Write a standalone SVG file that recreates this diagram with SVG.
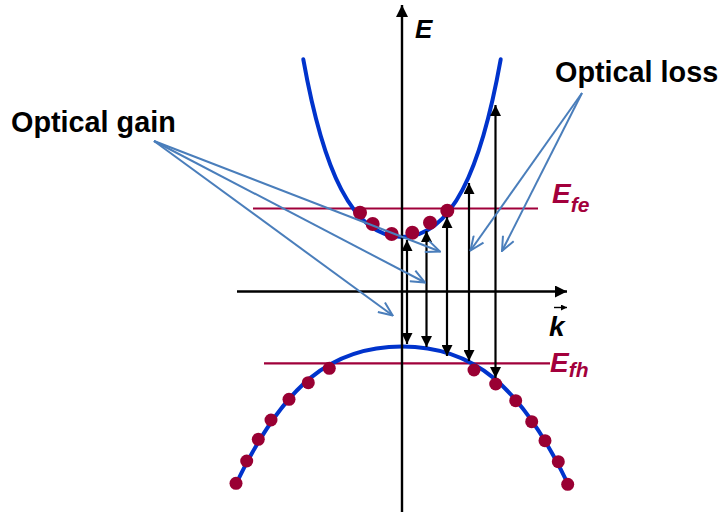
<svg xmlns="http://www.w3.org/2000/svg" width="721" height="512" viewBox="0 0 721 512">
<defs>
<style>
.band{fill:none;stroke:#0033CC;stroke-width:4;stroke-linecap:round}
.lvl{stroke:#A0003A;stroke-width:2.2}
.dot{fill:#990033}
.ax{stroke:#000;stroke-width:2.4;fill:none}
.tr{stroke:#000;stroke-width:2.2;fill:none;marker-start:url(#ah);marker-end:url(#ah)}
.co{stroke:#4A7EBB;stroke-width:2;fill:none;marker-end:url(#oa)}
.lbl{font-family:"Liberation Sans",Arial,sans-serif;font-weight:bold;fill:#000}
.it{font-style:italic}
.red{fill:#A3003C}
</style>
<marker id="ah" viewBox="0 0 10 10" refX="10" refY="5" markerWidth="12" markerHeight="11" markerUnits="userSpaceOnUse" orient="auto-start-reverse"><path d="M0,0 L10,5 L0,10 z" fill="#000"/></marker>
<marker id="ax" viewBox="0 0 10 10" refX="10" refY="5" markerWidth="12" markerHeight="12" markerUnits="userSpaceOnUse" orient="auto"><path d="M0,0 L10,5 L0,10 z" fill="#000"/></marker>
<marker id="ka" viewBox="0 0 10 10" refX="10" refY="5" markerWidth="6" markerHeight="6" markerUnits="userSpaceOnUse" orient="auto"><path d="M0,0 L10,5 L0,10 z" fill="#000"/></marker>
<marker id="oa" viewBox="0 0 16 14" refX="15" refY="7" markerWidth="16" markerHeight="14" markerUnits="userSpaceOnUse" orient="auto"><path d="M1,1 L15,7 L1,13" fill="none" stroke="#4A7EBB" stroke-width="2"/></marker>
</defs>
<rect width="721" height="512" fill="#fff"/>

<g id="quasi-fermi-levels">
<line class="lvl" x1="253" y1="208.5" x2="538" y2="208.5"/>
<line class="lvl" x1="264" y1="363.3" x2="550" y2="363.3"/>
</g>

<g id="conduction-band">
<path class="band" d="M303.3,59.3 C323,169.3 352,237 402,237 C452,237 481,169.3 500.7,59.3"/>
<circle class="dot" cx="360" cy="212.7" r="7"/>
<circle class="dot" cx="372.7" cy="224" r="7"/>
<circle class="dot" cx="391.7" cy="234" r="7"/>
<circle class="dot" cx="412.3" cy="232.7" r="7"/>
<circle class="dot" cx="430" cy="222.7" r="7"/>
<circle class="dot" cx="447.3" cy="210.7" r="7"/>
</g>

<g id="valence-band">
<path class="band" d="M236,484 C284.15,383.65 332,346.5 402,346.5 C472,346.5 519.85,383.65 568,484"/>
<circle class="dot" cx="236" cy="483.3" r="6.5"/>
<circle class="dot" cx="246.7" cy="461" r="6.5"/>
<circle class="dot" cx="258.3" cy="439.3" r="6.5"/>
<circle class="dot" cx="271" cy="420" r="6.5"/>
<circle class="dot" cx="289" cy="399.3" r="6.5"/>
<circle class="dot" cx="308.3" cy="382.7" r="6.5"/>
<circle class="dot" cx="329.3" cy="368.3" r="6.5"/>
<circle class="dot" cx="474" cy="370" r="6.5"/>
<circle class="dot" cx="495.7" cy="384" r="6.5"/>
<circle class="dot" cx="515.7" cy="400.7" r="6.5"/>
<circle class="dot" cx="531.7" cy="421.7" r="6.5"/>
<circle class="dot" cx="545" cy="440.7" r="6.5"/>
<circle class="dot" cx="558.3" cy="461.7" r="6.5"/>
<circle class="dot" cx="567.7" cy="484.3" r="6.5"/>
</g>

<g id="axes">
<line class="ax" x1="402" y1="512" x2="402" y2="5" marker-end="url(#ax)"/>
<line class="ax" x1="237" y1="291.5" x2="567" y2="291.5" marker-end="url(#ax)"/>
</g>

<g id="transitions">
<line class="tr" x1="407" y1="240" x2="407" y2="344"/>
<line class="tr" x1="426.5" y1="231" x2="426.5" y2="347"/>
<line class="tr" x1="447" y1="217" x2="447" y2="356"/>
<line class="tr" x1="469" y1="183" x2="469" y2="361"/>
<line class="tr" x1="495.5" y1="105" x2="495.5" y2="378"/>
</g>

<g id="callouts">
<line class="co" x1="154" y1="141" x2="440" y2="251.5"/>
<line class="co" x1="154" y1="141" x2="425" y2="282.5"/>
<line class="co" x1="154" y1="141" x2="392.7" y2="315.5"/>
<line class="co" x1="582" y1="93" x2="470.5" y2="250.5"/>
<line class="co" x1="582" y1="93" x2="502" y2="251"/>
</g>

<g id="label-E"><text class="lbl it" x="415" y="38.3" font-size="26">E</text></g>
<g id="label-k">
<text class="lbl it" x="549" y="336" font-size="28">k</text>
<line x1="554" y1="307.5" x2="567" y2="307.5" stroke="#000" stroke-width="1.4" marker-end="url(#ka)"/>
</g>
<g id="label-Efe"><text class="lbl it red" x="552" y="203.3" font-size="28">E<tspan font-size="21" dy="8.4">fe</tspan></text></g>
<g id="label-Efh"><text class="lbl it red" x="550" y="371.7" font-size="28">E<tspan font-size="21" dy="5.6">fh</tspan></text></g>
<g id="label-gain"><text class="lbl" x="11" y="131.7" font-size="28.8">Optical gain</text></g>
<g id="label-loss"><text class="lbl" x="555" y="81.7" font-size="28.8">Optical loss</text></g>
</svg>
